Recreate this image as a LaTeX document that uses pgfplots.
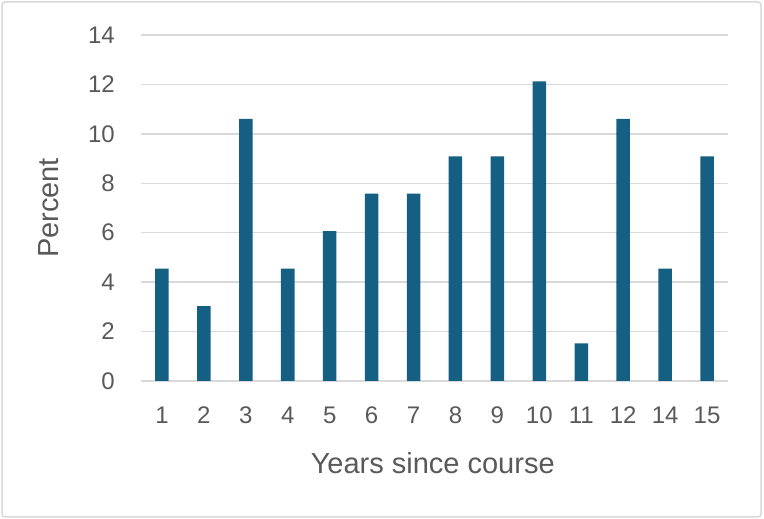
\documentclass[border=0pt]{standalone}
\usepackage{pgfplots}
\pgfplotsset{compat=1.18}
\usepackage{fontspec}
\setmainfont{Liberation Sans}
\definecolor{bar}{HTML}{156082}
\definecolor{txt}{HTML}{595959}
\definecolor{grd}{HTML}{D9D9D9}
\begin{document}
\begin{tikzpicture}[x=1pt,y=1pt]
\path (0,0) rectangle (764,519);
\draw[grd, line width=1.5pt, rounded corners=3pt] (2,2) rectangle (761,517);
\begin{axis}[
  at={(141pt,138pt)}, anchor=south west,
  scale only axis, width=587pt, height=346pt,
  xmin=-0.5, xmax=13.5, ymin=0, ymax=14,
  ytick={0,2,...,14},
  xtick={0,...,13},
  xticklabels={1,2,3,4,5,6,7,8,9,10,11,12,14,15},
  axis line style={draw=none},
  major tick length=0pt,
  ymajorgrids, grid style={grd, line width=1.5pt},
  tick label style={font=\fontsize{24}{28}\selectfont, text=txt},
  /pgf/number format/assume math mode=true,
  yticklabel style={anchor=east, inner sep=0pt, xshift=-26pt},
  xticklabel style={anchor=center, inner sep=0pt, yshift=-34pt},
  xlabel={Years since course}, ylabel={Percent},
  label style={font=\fontsize{29}{33}\selectfont, text=txt},
  xlabel style={at={(axis description cs:0.497,-0.237)}, anchor=center},
  ylabel style={at={(axis description cs:-0.158,0.5)}, anchor=center, rotate=0},
  clip=false,
]
\addplot[ybar, bar width=13.5pt, fill=bar, draw=none] coordinates {
(0,4.55) (1,3.03) (2,10.61) (3,4.55) (4,6.06) (5,7.58) (6,7.58)
(7,9.09) (8,9.09) (9,12.12) (10,1.52) (11,10.61) (12,4.55) (13,9.09)};
\end{axis}
\end{tikzpicture}
\end{document}
